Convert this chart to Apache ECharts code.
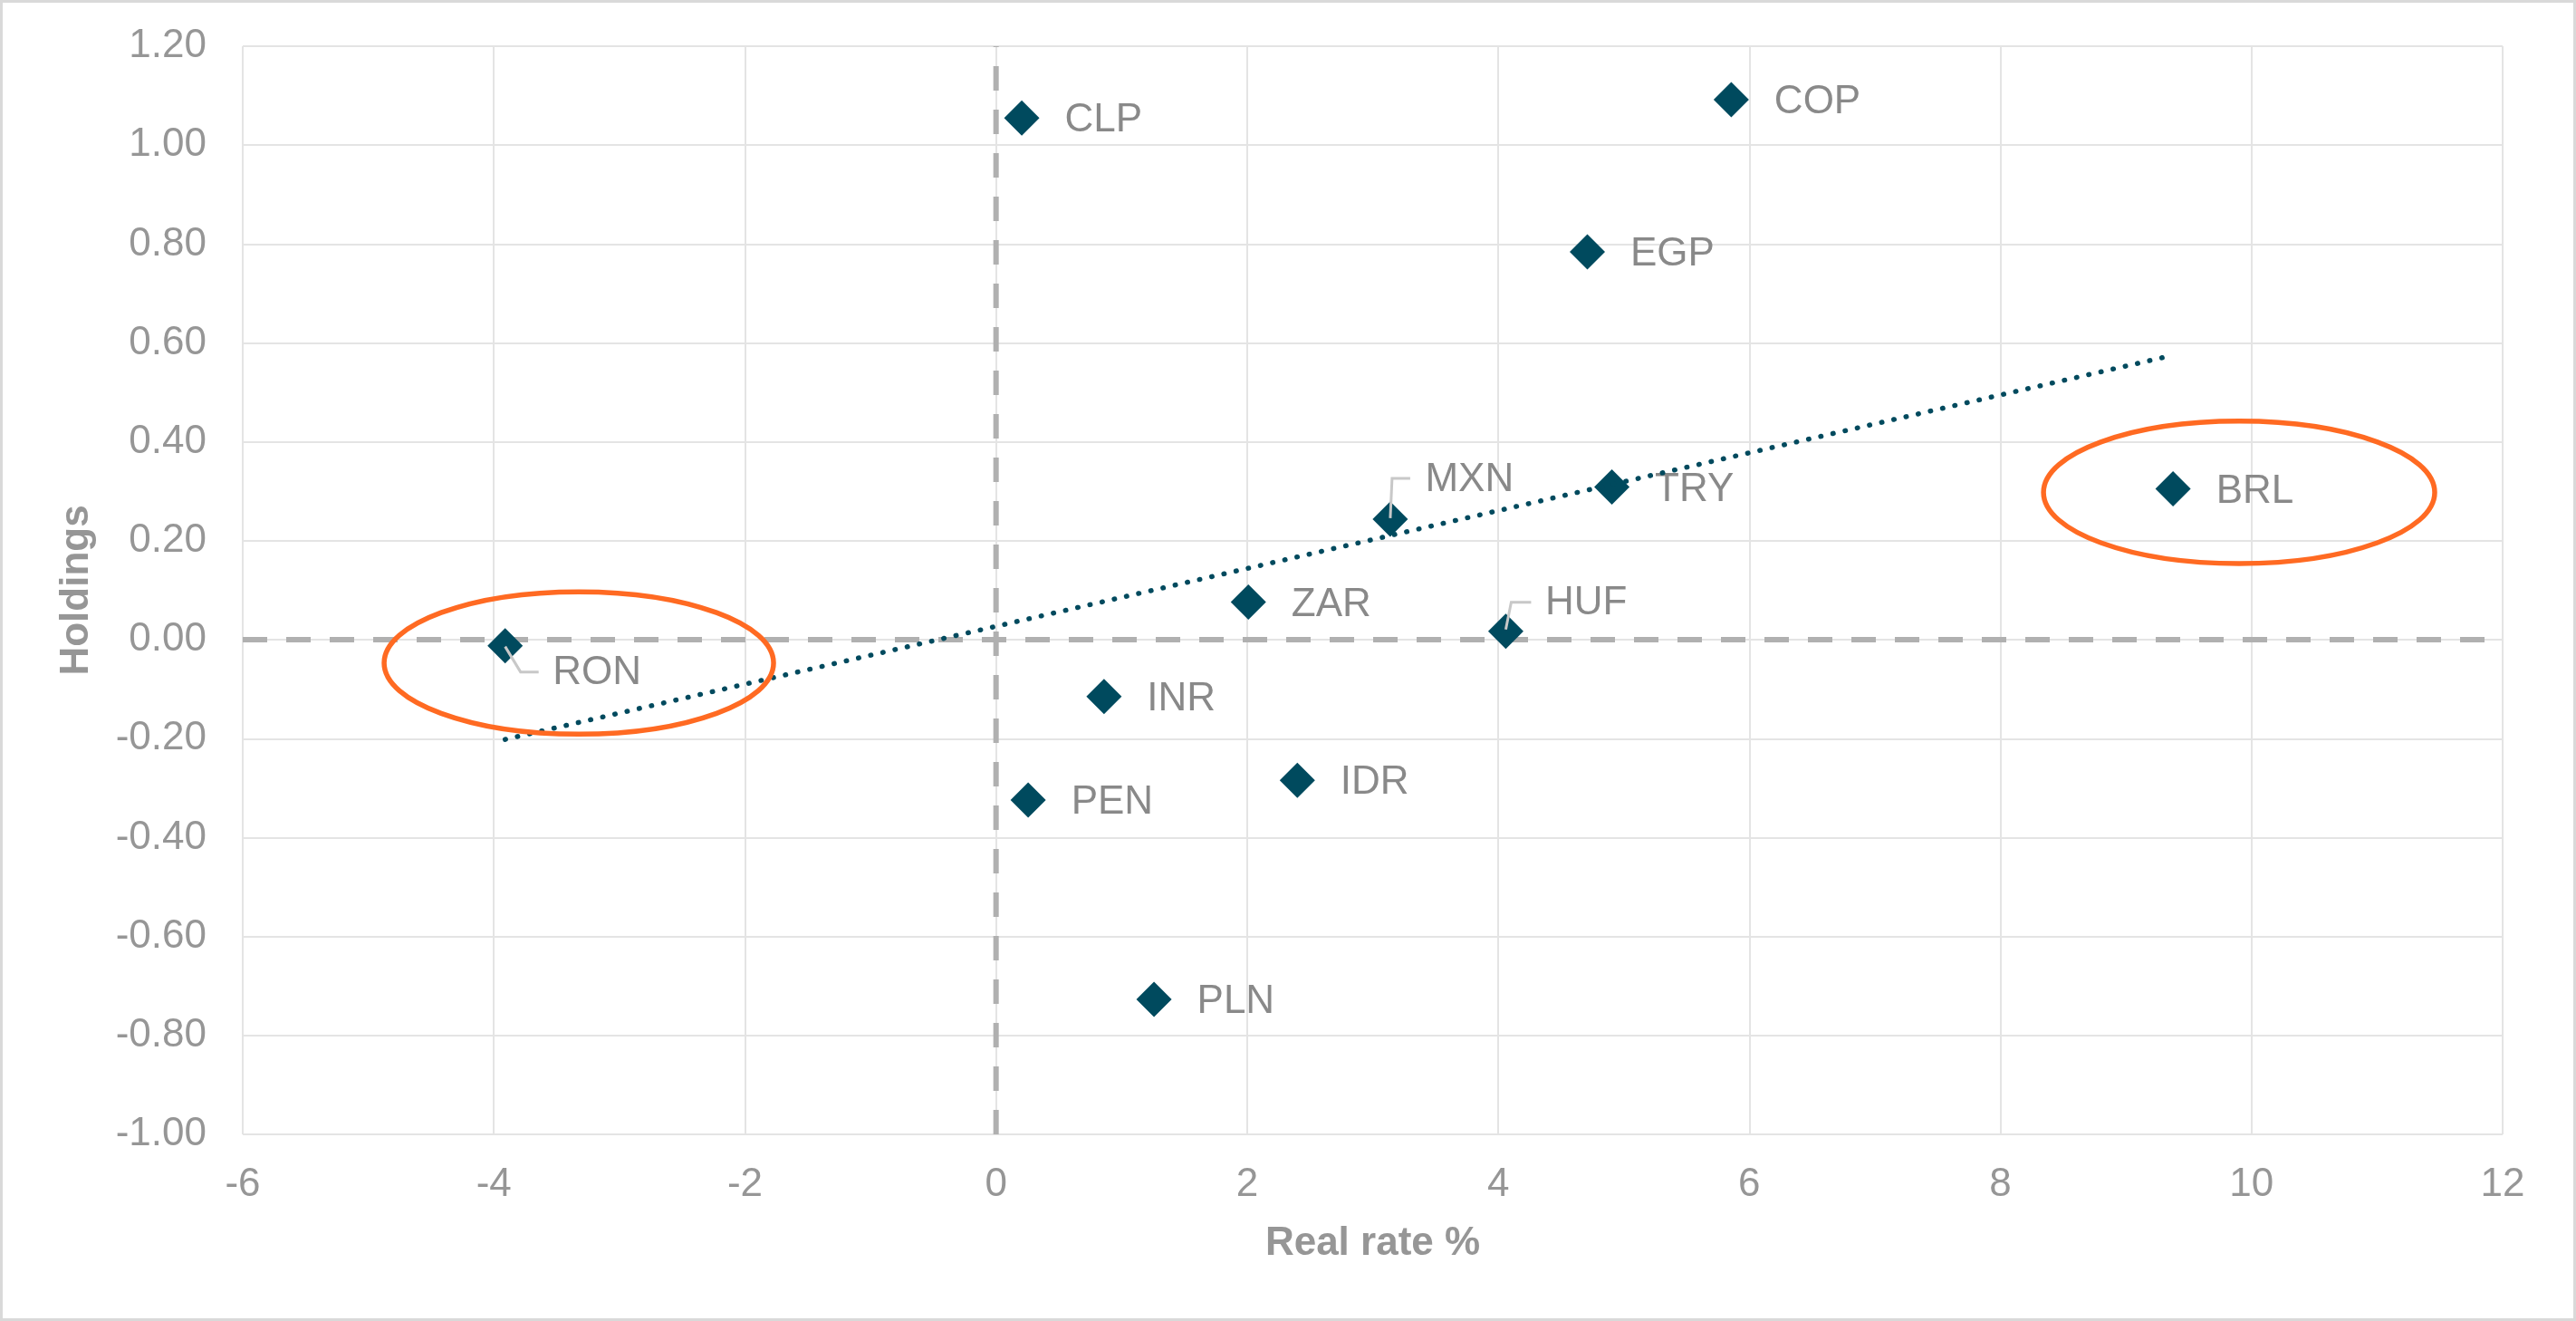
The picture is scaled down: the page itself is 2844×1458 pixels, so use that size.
<!DOCTYPE html>
<html><head><meta charset="utf-8">
<script src="https://cdn.jsdelivr.net/npm/echarts@6/dist/echarts.min.js"></script>
<style>html,body{margin:0;padding:0;background:#fff}#c{width:2844px;height:1458px}</style>
</head><body><div id="c"></div>
<script>
// ---- data ----
const currencies = ['CLP','COP','EGP','MXN','TRY','BRL','ZAR','HUF','RON','INR','IDR','PEN','PLN'];
const realRate   = [0.205, 5.856, 4.71, 3.14, 4.905, 9.375, 2.01, 4.06, -3.91, 0.86, 2.40, 0.256, 1.258];
const holdings   = [1.055, 1.092, 0.784, 0.244, 0.309, 0.305, 0.076, 0.017, -0.012, -0.115, -0.284, -0.324, -0.727];
const trendX = [-3.91, 9.37];
const trendY = [-0.2015, 0.575];
const xTickRange = [-6, 12, 2];
const yTickRange = [-1, 1.2, 0.2];
const zeroLineH = [[-6, 0], [12, 0]];
const zeroLineV = [[0, -1], [0, 1.2]];
// highlight ellipses: centre x, centre y, radius x, radius y (data units)
const highlightCx = [-3.323, 9.901];
const highlightCy = [-0.047, 0.298];
const highlightRx = [1.551, 1.558];
const highlightRy = [0.144, 0.144];
const calloutNames = ['RON', 'MXN', 'HUF'];

// ---- styles ----
const FONT = '"Liberation Sans", Arial, sans-serif';
const MARK = '#004A5E';
const labelOffsets = { RON: [5, 30], MXN: [-9, -43], HUF: [-4, -31] };
const leaderPaths = {
  RON: [[0, 1], [17, 29], [37, 29]],
  MXN: [[0, -1], [2, -45], [22, -45]],
  HUF: [[0, -2], [6, -32], [28, -32]]
};

const scatterData = currencies.map((n, i) => {
  const item = { name: n, value: [realRate[i], holdings[i]] };
  if (labelOffsets[n]) item.label = { offset: labelOffsets[n] };
  return item;
});
const calloutData = calloutNames.map(n => {
  const i = currencies.indexOf(n);
  return { name: n, value: [realRate[i], holdings[i]] };
});
const ellipseData = highlightCx.map((c, i) => [c, highlightCy[i], highlightRx[i], highlightRy[i]]);

const chart = echarts.init(document.getElementById('c'), null, { renderer: 'canvas' });
chart.setOption({
  animation: false,
  backgroundColor: '#ffffff',
  graphic: [{
    type: 'rect', shape: { x: 1.5, y: 1.5, width: 2841, height: 1455 },
    style: { fill: 'none', stroke: '#d9d9d9', lineWidth: 3 }, silent: true, z: 100
  }],
  grid: { left: 268, right: 81, top: 51, bottom: 206, containLabel: false },
  xAxis: {
    type: 'value', min: xTickRange[0], max: xTickRange[1], interval: xTickRange[2],
    axisLine: { show: false }, axisTick: { show: false },
    splitLine: { show: true, lineStyle: { color: '#e4e4e4', width: 2 } },
    axisLabel: { fontSize: 44, color: '#969696', fontFamily: FONT, margin: 34 },
    name: 'Real rate %', nameLocation: 'middle', nameGap: 99,
    nameTextStyle: { fontSize: 44, fontWeight: 'bold', color: '#969696', fontFamily: FONT }
  },
  yAxis: {
    type: 'value', min: yTickRange[0], max: yTickRange[1], interval: yTickRange[2],
    axisLine: { show: false }, axisTick: { show: false },
    splitLine: { show: true, lineStyle: { color: '#e4e4e4', width: 2 } },
    axisLabel: { fontSize: 44, color: '#969696', fontFamily: FONT, margin: 40,
      formatter: v => (Math.abs(v) < 1e-9 ? 0 : v).toFixed(2) },
    name: 'Holdings', nameLocation: 'middle', nameGap: 161, nameRotate: 90,
    nameTextStyle: { fontSize: 44, fontWeight: 'bold', color: '#969696', fontFamily: FONT }
  },
  series: [
    {
      type: 'line', data: zeroLineH, symbol: 'none', silent: true, z: 1,
      lineStyle: { color: '#b0b0b0', width: 6, type: [27, 21] }
    },
    {
      type: 'line', data: zeroLineV, symbol: 'none', silent: true, z: 1,
      lineStyle: { color: '#b0b0b0', width: 6, type: [27, 21] }
    },
    {
      type: 'scatter', data: scatterData, symbol: 'diamond', symbolSize: 39, z: 3,
      itemStyle: { color: MARK, opacity: 1 },
      label: { show: true, position: 'right', distance: 28, offset: [0, 3], formatter: p => p.name,
        fontSize: 44, color: '#898989', fontFamily: FONT }
    },
    {
      type: 'line', data: trendX.map((x, i) => [x, trendY[i]]), symbol: 'none', silent: true, z: 4,
      lineStyle: { color: MARK, width: 5.5, type: [0.5, 13.3], cap: 'round' }
    },
    {
      type: 'custom', data: calloutData, z: 5, silent: true,
      encode: { x: 0, y: 1 },
      renderItem: (params, api) => {
        const p = api.coord([api.value(0), api.value(1)]);
        const path = leaderPaths[calloutData[params.dataIndex].name];
        return {
          type: 'polyline',
          shape: { points: path.map(d => [p[0] + d[0], p[1] + d[1]]) },
          style: { fill: null, stroke: '#c8c8c8', lineWidth: 3 }
        };
      }
    },
    {
      type: 'custom', data: ellipseData, z: 6, silent: true,
      encode: { x: 0, y: 1 },
      renderItem: (params, api) => {
        const c = api.coord([api.value(0), api.value(1)]);
        const s = api.size([api.value(2), api.value(3)]);
        return {
          type: 'ellipse',
          shape: { cx: c[0], cy: c[1], rx: s[0], ry: s[1] },
          style: { fill: null, stroke: '#FF6A22', lineWidth: 5.5 }
        };
      }
    }
  ]
});
</script>
</body></html>
